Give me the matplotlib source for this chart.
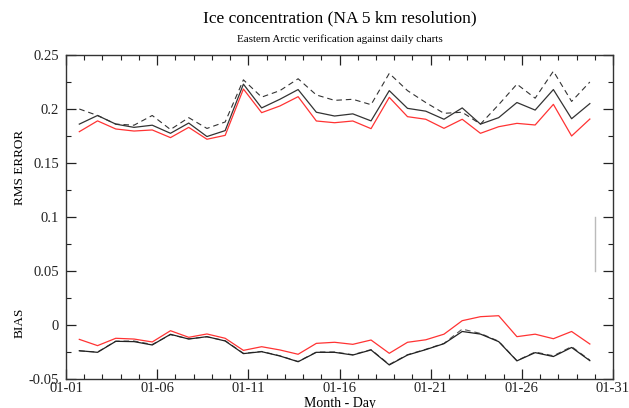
import matplotlib
matplotlib.use("Agg")
import matplotlib.pyplot as plt
from matplotlib.ticker import MultipleLocator, FixedLocator
import numpy as np

plt.rcParams['font.family'] = ['Liberation Serif', 'DejaVu Serif']

# Data: day of month for each verification (points lie ~0.73 day after day start)
days = np.arange(1, 30) + 0.73

rms_dashed = [0.200, 0.194, 0.186, 0.185, 0.194, 0.181, 0.192, 0.182, 0.188, 0.227,
              0.211, 0.217, 0.228, 0.213, 0.208, 0.209, 0.204, 0.233, 0.217, 0.206,
              0.196, 0.197, 0.186, 0.204, 0.223, 0.210, 0.235, 0.207, 0.225]
rms_solid = [0.186, 0.194, 0.186, 0.183, 0.185, 0.1775, 0.187, 0.1745, 0.180, 0.223,
             0.201, 0.209, 0.218, 0.197, 0.1935, 0.1955, 0.189, 0.217, 0.2006, 0.198,
             0.1905, 0.201, 0.186, 0.192, 0.206, 0.199, 0.218, 0.191, 0.205]
rms_red = [0.179, 0.189, 0.1815, 0.1796, 0.1806, 0.1735, 0.183, 0.172, 0.1756, 0.2185,
           0.1966, 0.2028, 0.2114, 0.1889, 0.1873, 0.1889, 0.1818, 0.2108, 0.1929, 0.1905,
           0.1821, 0.1905, 0.1775, 0.1836, 0.1867, 0.1852, 0.2043, 0.175, 0.1907]

bias_red = [-0.0133, -0.0191, -0.0123, -0.0130, -0.0157, -0.0053, -0.0114, -0.0083, -0.0123, -0.0235,
            -0.0201, -0.0231, -0.0271, -0.0170, -0.0160, -0.0179, -0.0139, -0.0262, -0.0160, -0.0137,
            -0.0085, 0.0040, 0.0077, 0.0086, -0.0108, -0.0085, -0.0127, -0.0060, -0.0176]
bias_solid = [-0.0238, -0.0253, -0.0151, -0.0154, -0.0185, -0.0086, -0.0130, -0.0108, -0.0148, -0.0265,
              -0.0247, -0.0287, -0.0340, -0.0253, -0.0253, -0.0278, -0.0231, -0.0370, -0.0278, -0.0228,
              -0.0173, -0.0060, -0.0084, -0.0154, -0.0332, -0.0256, -0.0292, -0.0208, -0.0330]
bias_dashed = [-0.0240, -0.0250, -0.0150, -0.0148, -0.0180, -0.0090, -0.0128, -0.0110, -0.0145, -0.0262,
               -0.0245, -0.0285, -0.0338, -0.0250, -0.0250, -0.0275, -0.0228, -0.0365, -0.0275, -0.0225,
               -0.0170, -0.0038, -0.0078, -0.0150, -0.0330, -0.0250, -0.0285, -0.0200, -0.0325]

# marker segment at day 30
seg_x = [30, 30]
seg_y = [0.05, 0.10]

xtick_pos = [1, 6, 11, 16, 21, 26, 31]
xtick_labels = ['01-01', '01-06', '01-11', '01-16', '01-21', '01-26', '01-31']
ytick_pos = [-0.05, 0.0, 0.05, 0.10, 0.15, 0.20, 0.25]
ytick_labels = ['-0.05', '0', '0.05', '0.1', '0.15', '0.2', '0.25']

fig = plt.figure(figsize=(6.29, 4.08), dpi=100)
ax = fig.add_axes([66/629, 1 - 379/408, (613-66)/629, (379-55)/408])

dash = (0, (5, 3.5))
ax.plot(days, rms_dashed, color='#333333', lw=0.8, linestyle=dash)
ax.plot(days, rms_solid, color='#333333', lw=0.9)
ax.plot(days, rms_red, color='#ff3333', lw=0.9)
ax.plot(days, bias_dashed, color='#555555', lw=0.8, linestyle=dash)
ax.plot(days, bias_solid, color='#222222', lw=0.9)
ax.plot(days, bias_red, color='#ff3333', lw=0.9)
ax.plot(seg_x, seg_y, color='#bbbbbb', lw=1.0)

ax.set_xlim(1, 31)
ax.set_ylim(-0.05, 0.25)
ax.xaxis.set_major_locator(FixedLocator(xtick_pos))
ax.set_xticklabels(xtick_labels)
ax.xaxis.set_minor_locator(MultipleLocator(1))
ax.yaxis.set_major_locator(FixedLocator(ytick_pos))
ax.set_yticklabels(ytick_labels)
ax.yaxis.set_minor_locator(MultipleLocator(0.025))

ax.tick_params(which='both', direction='in', top=True, right=True, colors='#222222',
               labelsize=10.5)
ax.tick_params(which='major', length=7, width=0.9)
ax.tick_params(which='minor', length=3.8, width=0.8)
ax.tick_params(axis='y', which='major', pad=5)
ax.tick_params(axis='x', which='major', pad=2.5)
for s in ax.spines.values():
    s.set_linewidth(1.0)
    s.set_color('#333333')

cx = 0.5 * (66 + 613) / 629
fig.text(cx, 1 - 18/408, 'Ice concentration (NA 5 km resolution)',
         ha='center', va='center', fontsize=12.5)
fig.text(cx, 1 - 39/408, 'Eastern Arctic verification against daily charts',
         ha='center', va='center', fontsize=8)
fig.text(20/629, 1 - 167/408, 'RMS ERROR', rotation=90, ha='center', va='center', fontsize=9.5)
fig.text(20/629, 1 - 323/408, 'BIAS', rotation=90, ha='center', va='center', fontsize=9.5)
fig.text(cx, 1 - 403/408, 'Month - Day', ha='center', va='center', fontsize=10)

fig.savefig('out.png', dpi=100)
